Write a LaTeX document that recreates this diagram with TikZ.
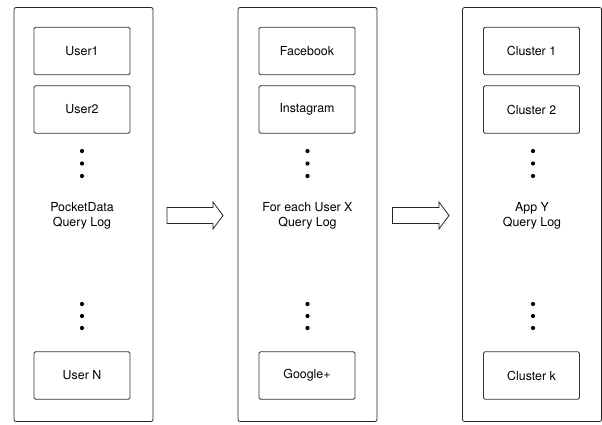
\documentclass[tikz,border=0pt]{standalone}
\usepackage{fontspec}
\setmainfont{TeX Gyre Heros}
\begin{document}
\begin{tikzpicture}[x=1pt,y=-1pt,
  outerbox/.style={draw=black!85,line width=0.8pt,rounded corners=2pt,minimum width=139pt,minimum height=414pt,inner sep=0pt},
  itembox/.style={draw=black!80,line width=0.8pt,rounded corners=1.5pt,minimum width=96pt,minimum height=47.5pt,inner sep=0pt,font=\fontsize{12.4}{15}\selectfont},
  caption/.style={align=center,font=\fontsize{12.4}{15}\selectfont,inner sep=0pt},
  dotmark/.style={circle,fill=black,inner sep=0pt,minimum size=4.2pt},
  blockarrow/.style={draw=black!85,line width=0.8pt,fill=white,line join=miter}]
\useasboundingbox (0,0) rectangle (602,424);
% columns
\foreach \name/\cx in {A/83.5, B/307.5, C/532} {
  \node[outerbox] (\name) at (\cx,214.5) {};
}
% column A
\node[itembox] (a1) at (82,51) {User1};
\node[itembox] (a2) at (82,109.5) {User2};
\node[dotmark] (ad1) at (82,151) {};
\node[dotmark] (ad2) at (82,163.5) {};
\node[dotmark] (ad3) at (82,176) {};
\node[caption] (at) at (82,215.5) {PocketData\\Query Log};
\node[dotmark] (ad4) at (82,304) {};
\node[dotmark] (ad5) at (82,316) {};
\node[dotmark] (ad6) at (82,328) {};
\node[itembox] (an) at (82,375.5) {User N};
% column B
\node[itembox] (b1) at (307,51) {Facebook};
\node[itembox] (b2) at (307,109.5) {Instagram};
\node[dotmark] (bd1) at (307.5,151) {};
\node[dotmark] (bd2) at (307.5,163.5) {};
\node[dotmark] (bd3) at (307.5,176) {};
\node[caption] (bt) at (307.5,215.5) {For each User X\\Query Log};
\node[dotmark] (bd4) at (307.5,304) {};
\node[dotmark] (bd5) at (307.5,316) {};
\node[dotmark] (bd6) at (307.5,328) {};
\node[itembox] (bn) at (307,375.5) {Google+};
% column C
\node[itembox] (c1) at (531.5,51) {Cluster 1};
\node[itembox] (c2) at (531.5,109.5) {Cluster 2};
\node[dotmark] (cd1) at (533,151) {};
\node[dotmark] (cd2) at (533,163.5) {};
\node[dotmark] (cd3) at (533,176) {};
\node[caption] (ct) at (532,215.5) {App Y\\Query Log};
\node[dotmark] (cd4) at (533,304) {};
\node[dotmark] (cd5) at (533,316) {};
\node[dotmark] (cd6) at (533,328) {};
\node[itembox] (cn) at (531.5,375.5) {Cluster k};
% block arrows
\draw[blockarrow] (167,207.5) -- (213,207.5) -- (213,202) -- (223,215.5) -- (213,229) -- (213,223.5) -- (167,223.5) -- cycle;
\draw[blockarrow] (392.5,207.5) -- (439,207.5) -- (439,202) -- (449,215.5) -- (439,229) -- (439,223.5) -- (392.5,223.5) -- cycle;
\end{tikzpicture}
\end{document}
